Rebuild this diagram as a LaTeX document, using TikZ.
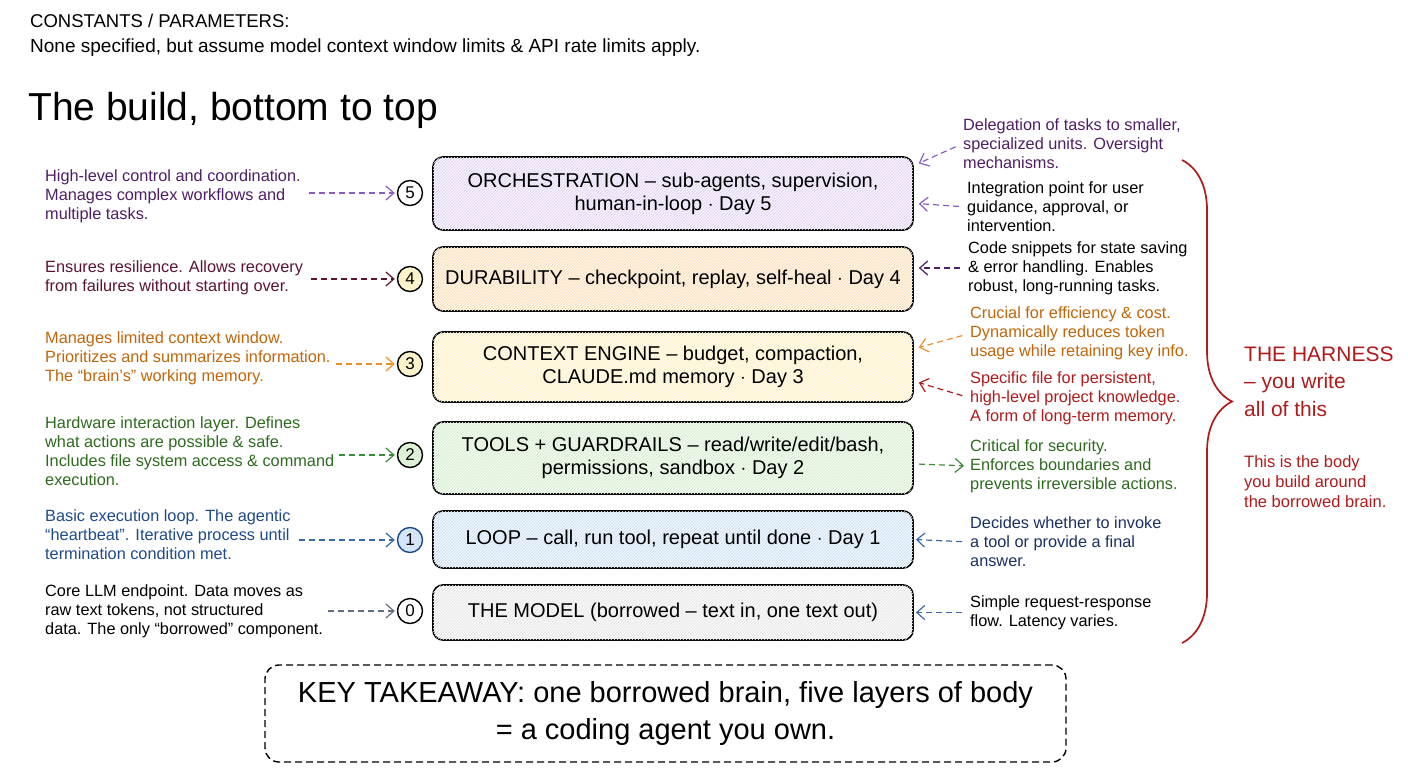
\documentclass[tikz,border=0pt]{standalone}
\usepackage{fontspec}
\setmainfont{Liberation Sans}
\usepackage{tikz}
\usetikzlibrary{arrows.meta}
\usetikzlibrary{calc}
\usetikzlibrary{patterns}
\usetikzlibrary{decorations.pathreplacing}

\definecolor{fillfive}{HTML}{E6DCF7}
\definecolor{fillfour}{HTML}{FBE3C2}
\definecolor{fillthree}{HTML}{FCF2CB}
\definecolor{filltwo}{HTML}{DCF1D6}
\definecolor{fillone}{HTML}{D5E5F7}
\definecolor{fillzero}{HTML}{EBEBEB}
\definecolor{txtfive}{HTML}{4E1E66}
\definecolor{arrfive}{HTML}{8A5CC0}
\definecolor{txtfour}{HTML}{5A1430}
\definecolor{txtthree}{HTML}{C0650A}
\definecolor{arrthree}{HTML}{E8902A}
\definecolor{txttwo}{HTML}{2D6A1E}
\definecolor{arrtwo}{HTML}{3A8A3A}
\definecolor{txtone}{HTML}{1F4A8A}
\definecolor{arrone}{HTML}{3A6AA8}
\definecolor{txtnavy}{HTML}{1A3060}
\definecolor{arrzero}{HTML}{607080}
\definecolor{harness}{HTML}{B01A1A}

\newcommand\annfont{\fontsize{16.3}{19}\selectfont}
\newcommand\boxfont{\fontsize{20}{23}\selectfont}
\newcommand\numfont{\fontsize{17}{17}\selectfont}

\begin{document}
\begin{tikzpicture}[x=1pt, y=-1pt,
    layer/.style={draw, line width=1.7pt, rounded corners=10pt, minimum width=480pt,
      align=center, font=\boxfont,
      postaction={pattern=north east lines, pattern color=white}},
    num/.style={circle, draw, line width=1.4pt, minimum size=25pt, inner sep=0pt, font=\numfont},
    note/.style={align=left, inner sep=0pt, anchor=west, font=\annfont},
    link/.style={line width=1.2pt, dash pattern=on 6pt off 4pt,
      -{Straight Barb[length=8pt,width=14pt]}, shorten <=8pt, shorten >=2pt}]
    \useasboundingbox (0,0) rectangle (1408,768);
    % header
    \node[anchor=west, inner sep=0pt, font=\fontsize{18.5}{18}\selectfont] (const) at (30,21) {CONSTANTS / PARAMETERS:};
    \node[anchor=west, inner sep=0pt, font=\fontsize{19}{19}\selectfont] (none) at (30,48)
      {None specified, but assume model context window limits \& API rate limits apply.};
    \node[anchor=west, inner sep=0pt, font=\fontsize{39}{39}\selectfont] (title) at (28,110) {The build, bottom to top};

    % the stack of layers
    \node[layer, fill=fillfive, minimum height=73pt] (b5) at (673,193.5)
      {ORCHESTRATION -- sub-agents, supervision,\\human-in-loop $\cdot$ Day 5};
    \node[layer, fill=fillfour, minimum height=64pt] (b4) at (673,279)
      {DURABILITY -- checkpoint, replay, self-heal $\cdot$ Day 4};
    \node[layer, fill=fillthree, minimum height=70pt] (b3) at (673,367)
      {CONTEXT ENGINE -- budget, compaction,\\CLAUDE.md memory $\cdot$ Day 3};
    \node[layer, fill=filltwo, minimum height=72pt] (b2) at (673,458)
      {TOOLS + GUARDRAILS -- read/write/edit/bash,\\permissions, sandbox $\cdot$ Day 2};
    \node[layer, fill=fillone, minimum height=57pt] (b1) at (673,539.5)
      {LOOP -- call, run tool, repeat until done $\cdot$ Day 1};
    \node[layer, fill=fillzero, minimum height=55pt] (b0) at (673,612.5)
      {THE MODEL (borrowed -- text in, one text out)};

    % numbers
    \node[num, fill=white] (c5) at (410,193) {5};
    \node[num, fill=fillthree] (c4) at (410,279) {4};
    \node[num, fill=fillthree] (c3) at (410,364) {3};
    \node[num, fill=filltwo] (c2) at (410,455) {2};
    \node[num, fill=fillone, draw=txtone] (c1) at (410,540) {1};
    \node[num, fill=white] (c0) at (410,611) {0};

    % left notes
    \node[note, text=txtfive] (t5) at (45,196)
      {High-level control and coordination.\\Manages complex workflows and\\multiple tasks.};
    \node[note, text=txtfour] (t4) at (45,277.5)
      {Ensures resilience. Allows recovery\\from failures without starting over.};
    \node[note, text=txtthree] (t3) at (45,358)
      {Manages limited context window.\\Prioritizes and summarizes information.\\The ``brain's'' working memory.};
    \node[note, text=txttwo] (t2) at (45,451.5)
      {Hardware interaction layer. Defines\\what actions are possible \& safe.\\Includes file system access \& command\\execution.};
    \node[note, text=txtone] (t1) at (45,535)
      {Basic execution loop. The agentic\\``heartbeat''. Iterative process until\\termination condition met.};
    \node[note] (t0) at (45,611)
      {Core LLM endpoint. Data moves as\\raw text tokens, not structured\\data. The only ``borrowed'' component.};

    \draw[link, arrfive] (t5.east |- c5) -- (c5.west);
    \draw[link, txtfour] (t4.east |- c4) -- (c4.west);
    \draw[link, arrthree, shorten <=5pt] (t3.east |- c3) -- (c3.west);
    \draw[link, arrtwo, shorten <=5pt] (t2.east |- c2) -- (c2.west);
    \draw[link, arrone] (t1.east |- c1) -- (c1.west);
    \draw[link, arrzero, shorten <=5pt] (t0.east |- c0) -- (c0.west);

    % right notes
    \node[note, text=txtfive] (r5a) at (963,143.5)
      {Delegation of tasks to smaller,\\specialized units. Oversight\\mechanisms.};
    \node[note] (r5b) at (967,207)
      {Integration point for user\\guidance, approval, or\\intervention.};
    \node[note] (r4) at (968,268)
      {Code snippets for state saving\\\& error handling. Enables\\robust, long-running tasks.};
    \node[note, text=txtthree] (r3a) at (970,333.5)
      {Crucial for efficiency \& cost.\\Dynamically reduces token\\usage while retaining key info.};
    \node[note, text=harness] (r3b) at (970,398)
      {Specific file for persistent,\\high-level project knowledge.\\A form of long-term memory.};
    \node[note, text=txttwo] (r2) at (970,466)
      {Critical for security.\\Enforces boundaries and\\prevents irreversible actions.};
    \node[note, text=txtnavy] (r1) at (970,542)
      {Decides whether to invoke\\a tool or provide a final\\answer.};
    \node[note] (r0) at (970,612.5)
      {Simple request-response\\flow. Latency varies.};

    \draw[link, arrfive] (r5a.west) -- ($(b5.north east)+(3,8)$);
    \draw[link, arrfive] (r5b.west) -- ($(b5.east)+(3,10)$);
    \draw[link, txtfive] (r4.west) -- ($(b4.east)+(3,-11)$);
    \draw[link, arrthree] (r3a.west) -- ($(b3.east)+(3,-19)$);
    \draw[link, harness] (r3b.west) -- ($(b3.east)+(3,15)$);
    \draw[link, arrtwo, shorten <=2pt, shorten >=6pt] ($(b2.east)+(3,6)$) -- (r2.west);
    \draw[link, arrone] (r1.west) -- (b1.east);
    \draw[link, arrone] (r0.west) -- (b0.east);

    % the harness brace
    \coordinate (bt) at (1182,160);
    \coordinate (bb) at (1182,643);
    \draw[harness, line width=1.7pt, decorate, decoration={brace, amplitude=50pt}] (bt) -- (bb);
    \node[note, text=harness, font=\fontsize{21}{27.5}\selectfont] (h1) at (1244,381.5)
      {THE HARNESS\\-- you write\\all of this};
    \node[note, text=harness, font=\fontsize{16.5}{20}\selectfont] (h2) at (1244,482)
      {This is the body\\you build around\\the borrowed brain.};

    % takeaway
    \node[draw, dashed, line width=1.4pt, dash pattern=on 7pt off 4pt, rounded corners=14pt,
      minimum width=801pt, minimum height=97pt, align=center,
      font=\fontsize{29}{37}\selectfont] (take) at (665.5,713.5)
      {KEY TAKEAWAY: one borrowed brain, five layers of body\\= a coding agent you own.};
  \end{tikzpicture}
\end{document}
